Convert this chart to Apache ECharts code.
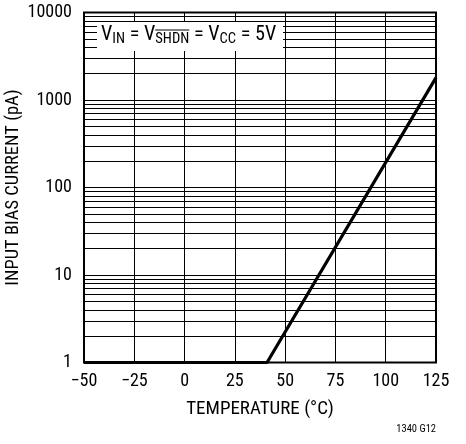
<!DOCTYPE html>
<html>
<head>
<meta charset="utf-8">
<script src="https://cdn.jsdelivr.net/npm/echarts@6/dist/echarts.min.js"></script>
<style>
  html, body { margin: 0; padding: 0; background: #fff; }
  #chart { width: 466px; height: 444px; }
</style>
</head>
<body>
<div id="chart"></div>
<script>
// Input bias current vs temperature
const temperatureC = [-50, 41, 125];
const biasCurrentPA = [1, 1, 1800];
const xTicks = [-50, -25, 0, 25, 50, 75, 100, 125];
const yDecades = [1, 10, 100, 1000, 10000];

const FONT = "'Roboto Condensed', 'DejaVu Sans Condensed', sans-serif";

// log-paper minor lines: 2..9 within each decade
const minorLines = [];
for (let d = 0; d < yDecades.length - 1; d++) {
  for (let k = 2; k <= 9; k++) minorLines.push({ yAxis: yDecades[d] * k });
}

const chart = echarts.init(document.getElementById('chart'), null, { renderer: 'canvas' });

// text widths, used to place the bar over SHDN
const ctx = document.createElement('canvas').getContext('2d');
function w(str, size) { ctx.font = size + 'px ' + FONT; return ctx.measureText(str).width; }
const MAIN = 20.2, SUB = 14.6;
const labelX = 101, labelY = 24.5;
const ovStart = labelX + w('V', MAIN) + w('IN', SUB) + w(' = V', MAIN);
const ovEnd = ovStart + w('SHDN', SUB);

chart.setOption({
  animation: false,
  grid: {
    left: 84, right: 30, top: 12.5, bottom: 81.5,
    containLabel: false, outerBoundsMode: 'none',
    show: true, borderColor: '#000', borderWidth: 2, z: 5
  },
  xAxis: {
    type: 'value', min: xTicks[0], max: xTicks[xTicks.length - 1], interval: 25,
    name: 'TEMPERATURE (°C)', nameLocation: 'middle', nameGap: 37, nameMoveOverlap: false,
    nameTextStyle: { fontFamily: FONT, fontSize: 19, color: '#000' },
    axisLine: { show: false }, axisTick: { show: false },
    axisLabel: { fontFamily: FONT, fontSize: 18, color: '#000', margin: 10,
      formatter: v => (v < 0 ? '\u2212' + (-v) : String(v)) },
    splitLine: { show: true, lineStyle: { color: '#000', width: 1 } }
  },
  yAxis: {
    type: 'log', logBase: 10, min: yDecades[0], max: yDecades[yDecades.length - 1],
    name: 'INPUT BIAS CURRENT (pA)', nameLocation: 'middle', nameGap: 61, nameRotate: 90,
    nameMoveOverlap: false,
    nameTextStyle: { fontFamily: FONT, fontSize: 18.5, color: '#000' },
    axisLine: { show: false }, axisTick: { show: false },
    axisLabel: { fontFamily: FONT, fontSize: 18, color: '#000', margin: 12,
      formatter: v => String(Math.round(v)) },
    splitLine: { show: true, lineStyle: { color: '#000', width: 1 } }
  },
  series: [{
    type: 'line',
    data: temperatureC.map((t, i) => [t, biasCurrentPA[i]]),
    symbol: 'none',
    lineStyle: { color: '#000', width: 3.2 },
    z: 10,
    markLine: {
      silent: true, symbol: ['none', 'none'], label: { show: false },
      lineStyle: { color: '#000', width: 1, type: 'solid' },
      data: minorLines, z: 1
    }
  }],
  graphic: [
    { type: 'rect', shape: { x: 97, y: 22, width: 186, height: 29 }, style: { fill: '#fff' }, z: 50 },
    {
      type: 'text', x: labelX, y: labelY, z: 51,
      style: {
        text: '{m|V}{s|IN}{m| = V}{s|SHDN}{m| = V}{s|CC}{m| = 5V}',
        fill: '#000', verticalAlign: 'top',
        rich: {
          m: { fontFamily: FONT, fontSize: MAIN, verticalAlign: 'bottom', padding: [0, 0, 2, 0], fill: '#000' },
          s: { fontFamily: FONT, fontSize: SUB, verticalAlign: 'bottom', fill: '#000' }
        }
      }
    },
    { type: 'line', z: 60, shape: { x1: ovStart, y1: 30, x2: ovEnd, y2: 30 }, style: { stroke: '#000', lineWidth: 1.2 } },
    {
      type: 'text', right: 30, top: 424, z: 51,
      style: { text: '1340 G12', fontFamily: FONT, fontSize: 10.5, fill: '#000' }
    }
  ]
});
</script>
</body>
</html>
